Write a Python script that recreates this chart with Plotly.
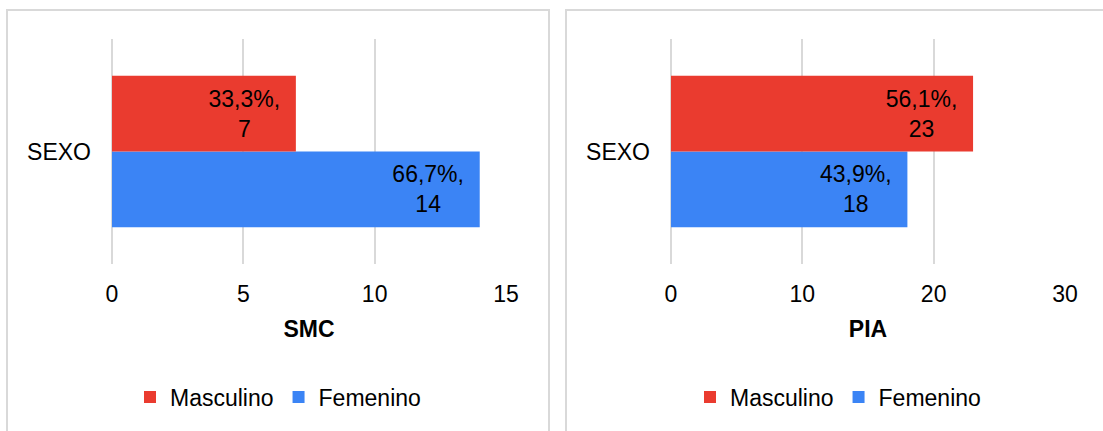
import plotly.graph_objects as go

# ---- data ----
category = ["SEXO"]
series_names = ["Masculino", "Femenino"]
smc_values = {"Masculino": 7, "Femenino": 14}
smc_pct = {"Masculino": "33,3%", "Femenino": "66,7%"}
pia_values = {"Masculino": 23, "Femenino": 18}
pia_pct = {"Masculino": "56,1%", "Femenino": "43,9%"}
smc_ticks = [0, 5, 10, 15]
pia_ticks = [0, 10, 20, 30]
panel_titles = ["SMC", "PIA"]

colors = {"Masculino": "#EA3B2F", "Femenino": "#3B84F5"}
FONT = "Arial, Liberation Sans, sans-serif"
FS = 23
W, H = 1103, 431
pad = "\u00a0\u00a0"

fig = go.Figure()

panels = [
    ("x", "y", "legend", smc_values, smc_pct),
    ("x2", "y2", "legend2", pia_values, pia_pct),
]
# Femenino first -> drawn at the bottom of the group
for xa, ya, lg, vals, pcts in panels:
    for rank, name in zip([2, 1], ["Femenino", "Masculino"]):
        fig.add_trace(go.Bar(
            y=category, x=[vals[name]], orientation="h", name=name,
            marker=dict(color=colors[name], line=dict(width=0)),
            text=[f"{pcts[name]},{pad}<br>{vals[name]}{pad}"],
            textposition="inside", insidetextanchor="end",
            constraintext="none", textangle=0,
            insidetextfont=dict(family=FONT, size=FS, color="#000000"),
            xaxis=xa, yaxis=ya, legend=lg, legendrank=rank,
        ))

grid = "#D9D9D9"
common_x = dict(showgrid=True, gridcolor=grid, gridwidth=2, zeroline=True,
                zerolinecolor=grid, zerolinewidth=2, showline=False, ticks="",
                tickfont=dict(family=FONT, size=FS, color="#000000"),
                ticklabelstandoff=14, fixedrange=True, automargin=False)
common_y = dict(showgrid=False, zeroline=False, showline=False, ticks="",
                tickfont=dict(family=FONT, size=FS, color="#000000"),
                ticklabelstandoff=20, range=[-0.5, 0.5], automargin=False,
                fixedrange=True)

ydom = [(H - 264) / H, (H - 39) / H]
legend_common = dict(orientation="h", xanchor="center", y=(H - 397) / H,
                     yanchor="middle", font=dict(family=FONT, size=FS),
                     bgcolor="rgba(0,0,0,0)", itemwidth=30, traceorder="normal")
fig.update_layout(
    width=W, height=H,
    margin=dict(l=0, r=0, t=0, b=0, autoexpand=False),
    paper_bgcolor="white", plot_bgcolor="white",
    barmode="group", bargap=0.326, bargroupgap=0,
    font=dict(family=FONT, size=FS, color="#000000"),
    xaxis=dict(domain=[112 / W, 506 / W], range=[0, 15], tickvals=smc_ticks,
               title=dict(text=f"<b>{panel_titles[0]}</b>", standoff=14,
                          font=dict(family=FONT, size=FS)), anchor="y", **common_x),
    yaxis=dict(domain=ydom, anchor="x", **common_y),
    xaxis2=dict(domain=[671 / W, 1065 / W], range=[0, 30], tickvals=pia_ticks,
                title=dict(text=f"<b>{panel_titles[1]}</b>", standoff=14,
                           font=dict(family=FONT, size=FS)), anchor="y2", **common_x),
    yaxis2=dict(domain=ydom, anchor="x2", **common_y),
    legend=dict(x=278 / W, **legend_common),
    legend2=dict(x=838 / W, **legend_common),
    showlegend=True,
    shapes=[
        dict(type="rect", xref="paper", yref="paper", x0=7 / W, x1=549 / W,
             y0=-0.2, y1=(H - 10) / H, line=dict(color=grid, width=2),
             fillcolor="rgba(0,0,0,0)", layer="below"),
        dict(type="rect", xref="paper", yref="paper", x0=566 / W, x1=1.2,
             y0=-0.2, y1=(H - 10) / H, line=dict(color=grid, width=2),
             fillcolor="rgba(0,0,0,0)", layer="below"),
    ],
)

fig.write_html("out.html", config={"displayModeBar": False},
               post_script="document.body.style.margin='0px';document.body.style.overflow='hidden';")
